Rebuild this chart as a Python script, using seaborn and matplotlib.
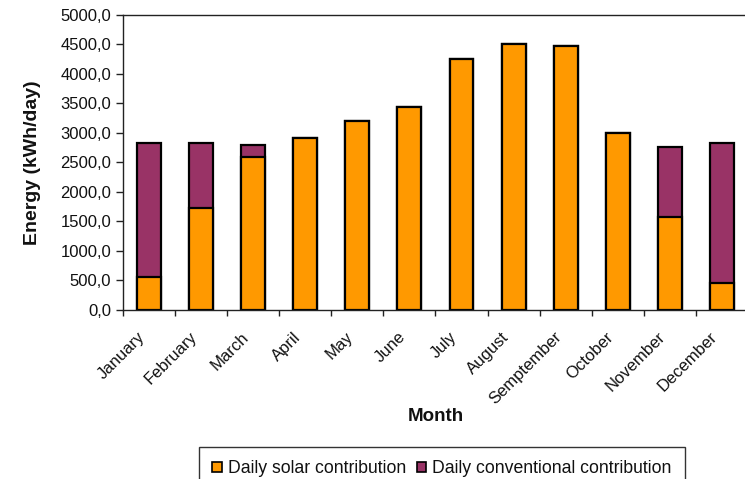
import matplotlib
matplotlib.use("Agg")
import matplotlib.pyplot as plt
import matplotlib.transforms as mtransforms
import seaborn as sns
import pandas as pd
from matplotlib.patches import Patch
from matplotlib.ticker import FuncFormatter, FixedLocator

months = ["January", "February", "March", "April", "May", "June", "July",
          "August", "Semptember", "October", "November", "December"]
solar = [565, 1723, 2599, 2910, 3209, 3435, 4254, 4503, 4475, 2994, 1582, 452]
conventional = [2260, 1102, 198, 0, 0, 0, 0, 0, 0, 0, 1186, 2373]

df = pd.DataFrame({"Month": months, "Solar": solar, "Conventional": conventional})
df["Total"] = df["Solar"] + df["Conventional"]

sns.set_theme(style="white")
plt.rcParams["font.family"] = ["Liberation Sans", "DejaVu Sans"]

ORANGE = "#FF9900"
PURPLE = "#993366"
AX_COL = "#222222"

fig = plt.figure(figsize=(7.45, 4.79), dpi=100)
ax = fig.add_axes([0.165, 0.353, 0.839, 0.616])

sns.barplot(data=df, x="Month", y="Total", color=PURPLE, width=0.46,
            edgecolor="black", linewidth=1.6, saturation=1, ax=ax)
sns.barplot(data=df, x="Month", y="Solar", color=ORANGE, width=0.46,
            edgecolor="black", linewidth=1.6, saturation=1, ax=ax)

ax.set_ylim(0, 5000)
ax.set_xlim(-0.5, len(months) - 0.5)
ax.set_yticks(range(0, 5001, 500))
ax.yaxis.set_major_formatter(FuncFormatter(lambda v, p: f"{v:.1f}".replace(".", ",")))
ax.tick_params(axis="y", labelsize=12, length=5, width=1, color=AX_COL, left=True, pad=3.5,
               labelcolor="#111111")

ax.set_xticks(range(len(months)))
ax.set_xticklabels(months, rotation=45, ha="right", va="top", rotation_mode="anchor",
                   fontsize=12, color="#111111")
ax.tick_params(axis="x", length=0, pad=14)
offset = mtransforms.ScaledTranslation(-12 / 100, 0, fig.dpi_scale_trans)
for lbl in ax.get_xticklabels():
    lbl.set_transform(lbl.get_transform() + offset)
ax.xaxis.set_minor_locator(FixedLocator([i - 0.5 for i in range(len(months) + 1)]))
ax.tick_params(axis="x", which="minor", length=4, width=1, color=AX_COL, bottom=True)

for s in ["left", "bottom", "top"]:
    ax.spines[s].set_visible(True)
    ax.spines[s].set_color(AX_COL)
    ax.spines[s].set_linewidth(1)
ax.spines["right"].set_visible(False)

ax.set_ylabel("Energy (kWh/day)", fontsize=14, fontweight="bold", labelpad=14, color="#111111")
ax.set_xlabel("Month", fontsize=13.5, fontweight="bold", labelpad=0.5, color="#111111")

handles = [Patch(facecolor=ORANGE, edgecolor="black", linewidth=1.2, label="Daily solar contribution"),
           Patch(facecolor=PURPLE, edgecolor="black", linewidth=1.2, label="Daily conventional contribution")]
leg = fig.legend(handles=handles, loc="upper center", bbox_to_anchor=(0.593, 0.0668), ncol=2,
                 fontsize=12.7, frameon=True, fancybox=False, handlelength=0.55, handleheight=0.55,
                 handletextpad=0.35, columnspacing=0.6, borderpad=0.75, borderaxespad=0)
leg.get_frame().set_edgecolor("black")
leg.get_frame().set_linewidth(1)
for t in leg.get_texts():
    t.set_color("#111111")

fig.savefig("out.png", dpi=100)
